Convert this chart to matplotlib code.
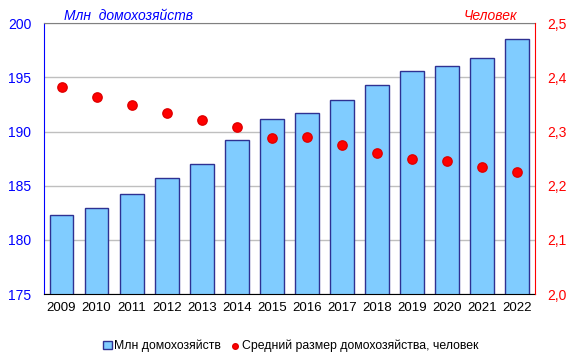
import numpy as np
import matplotlib
matplotlib.use('Agg')
import matplotlib.pyplot as plt
from matplotlib.ticker import FuncFormatter

plt.rcParams['font.family'] = ['Liberation Sans', 'DejaVu Sans']

years = ['2009', '2010', '2011', '2012', '2013', '2014', '2015',
         '2016', '2017', '2018', '2019', '2020', '2021', '2022']
households = [182.3, 182.9, 184.2, 185.7, 187.0, 189.2, 191.2,
              191.7, 192.9, 194.3, 195.6, 196.0, 196.8, 198.5]
avg_size = [2.382, 2.363, 2.348, 2.335, 2.322, 2.309, 2.288,
            2.289, 2.276, 2.260, 2.249, 2.246, 2.234, 2.225]

fig = plt.figure(figsize=(5.82, 3.56), dpi=100)
ax = fig.add_axes([0.0756, 0.174, 0.843, 0.761])
ax2 = ax.twinx()

x = np.arange(len(years))
bars = ax.bar(x, households, width=0.68, color='#80CCFF', edgecolor='#2E3192',
              linewidth=1.0, zorder=2, label='Млн домохозяйств')
ax.set_ylim(175, 200)
ax.set_yticks(np.arange(175, 201, 5))
ax.set_xlim(-0.5, len(years) - 0.5)
ax.set_xticks(x)
ax.set_xticklabels(years)
ax.yaxis.grid(True, color='#BFBFBF', linewidth=1.0, zorder=0)
ax.set_axisbelow(True)

pts = ax2.scatter(x, avg_size, s=45, color='#FF0000', edgecolor='#E00000',
                  zorder=3, label='Средний размер домохозяйства, человек')
ax2.set_ylim(2.0, 2.5)
ax2.set_yticks(np.arange(2.0, 2.51, 0.1))
ax2.yaxis.set_major_formatter(FuncFormatter(lambda v, p: f'{v:.1f}'.replace('.', ',')))

# spines
ax.spines['left'].set_color('#0000FF')
ax.spines['bottom'].set_color('black')
ax.spines['top'].set_color('#808080')
ax.spines['right'].set_visible(False)
ax2.spines['left'].set_visible(False)
ax2.spines['bottom'].set_visible(False)
ax2.spines['top'].set_visible(False)
ax2.spines['right'].set_color('#FF0000')

ax.tick_params(axis='y', colors='#0000FF', labelsize=10, length=0, pad=9)
ax.tick_params(axis='x', colors='black', labelsize=9.5, length=0, pad=6)
ax2.tick_params(axis='y', colors='#FF0000', labelsize=10, length=0, pad=9)

fig.text(0.11, 0.945, 'Млн  домохозяйств', color='#0000FF', style='italic', fontsize=10)
fig.text(0.888, 0.945, 'Человек', color='#FF0000', style='italic', fontsize=10, ha='right')

handles = [bars, pts]
leg = fig.legend(handles, [h.get_label() for h in handles], loc='lower center',
                 bbox_to_anchor=(0.5, -0.02), ncol=2, frameon=False, fontsize=8.8,
                 handlelength=0.7, handletextpad=0.2, columnspacing=0.8, markerscale=0.6)

plt.savefig('out.png', dpi=100)
